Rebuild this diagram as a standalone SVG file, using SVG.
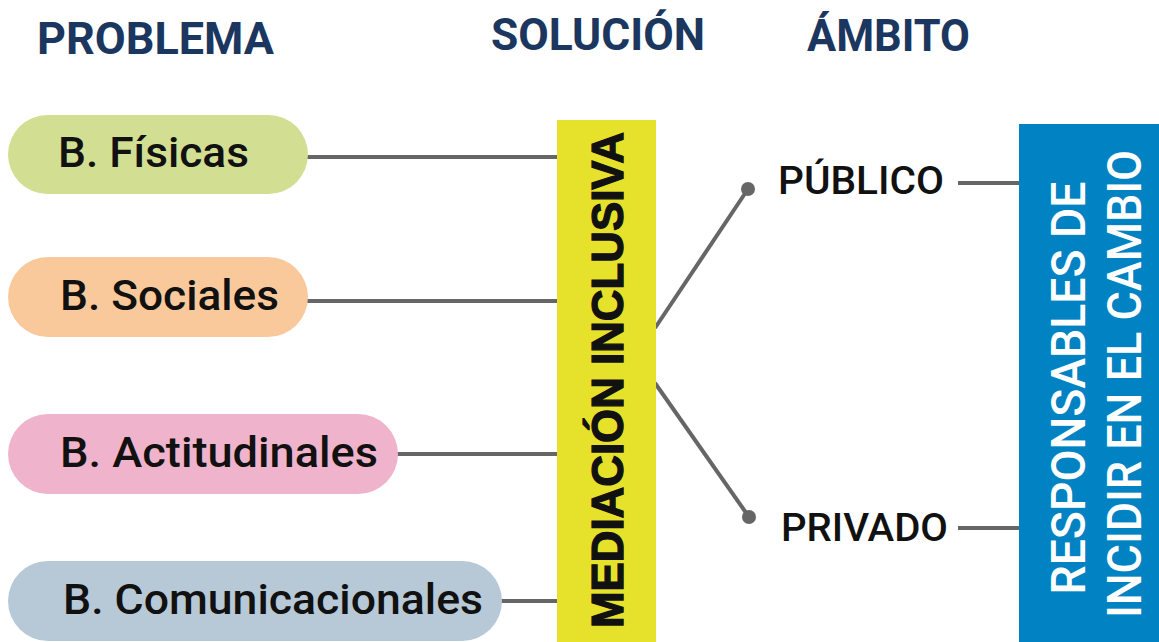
<svg xmlns="http://www.w3.org/2000/svg" width="1159" height="642" viewBox="0 0 1159 642">
<style>
.hdr{font-family:"Roboto","Liberation Sans",sans-serif;font-weight:700;font-size:44px;fill:#1B375F}
.pill-t{font-family:"Roboto","Liberation Sans",sans-serif;font-weight:500;font-size:43px;fill:#111}
.lbl{font-family:"Roboto","Liberation Sans",sans-serif;font-weight:500;font-size:39px;fill:#111}
.med{font-family:"Liberation Sans","Arial",sans-serif;font-weight:700;font-size:45px;fill:#111;stroke:#111;stroke-width:1.3px}
.resp{font-family:"Roboto","Liberation Sans",sans-serif;font-weight:500;font-size:48px;fill:#fff}
.conn line{stroke:#666;stroke-width:4;fill:none}
.conn circle{fill:#666}
</style>
<rect width="1159" height="642" fill="#fff"/>
<g id="headers">
<text class="hdr" x="37" y="54" textLength="237" lengthAdjust="spacingAndGlyphs">PROBLEMA</text>
<text class="hdr" x="491" y="50" textLength="214" lengthAdjust="spacingAndGlyphs">SOLUCIÓN</text>
<text class="hdr" x="807" y="51" textLength="163" lengthAdjust="spacingAndGlyphs">ÁMBITO</text>
</g>
<g class="conn" id="connectors">
<line x1="306" y1="157" x2="559" y2="157"/>
<line x1="306" y1="301" x2="559" y2="301"/>
<line x1="396" y1="454" x2="559" y2="454"/>
<line x1="500" y1="601" x2="559" y2="601"/>
<line x1="655" y1="328" x2="748" y2="189"/>
<line x1="655" y1="383" x2="749" y2="517"/>
<circle cx="748" cy="189" r="7"/>
<circle cx="749" cy="517" r="7"/>
<line x1="958" y1="183" x2="1021" y2="183"/>
<line x1="958" y1="528" x2="1021" y2="528"/>
</g>
<g id="fisicas">
<rect x="8" y="115" width="300" height="79" rx="39.5" fill="#D2DF93"/>
<text class="pill-t" x="58" y="167" textLength="191" lengthAdjust="spacingAndGlyphs">B. Físicas</text>
</g>
<g id="sociales">
<rect x="8" y="257" width="300" height="80" rx="40" fill="#F9C99B"/>
<text class="pill-t" x="60" y="310" textLength="219" lengthAdjust="spacingAndGlyphs">B. Sociales</text>
</g>
<g id="actitudinales">
<rect x="8" y="414" width="390" height="80" rx="40" fill="#EFB4CB"/>
<text class="pill-t" x="60" y="467" textLength="318" lengthAdjust="spacingAndGlyphs">B. Actitudinales</text>
</g>
<g id="comunicacionales">
<rect x="8" y="561" width="494" height="80" rx="40" fill="#B7C8D6"/>
<text class="pill-t" x="63" y="614" textLength="420" lengthAdjust="spacingAndGlyphs">B. Comunicacionales</text>
</g>
<g id="mediacion">
<rect x="557" y="120" width="99" height="522" fill="#E6E12A"/>
<text class="med" transform="translate(623,380) rotate(-90)" x="0" y="0" text-anchor="middle" textLength="496" lengthAdjust="spacingAndGlyphs">MEDIACIÓN INCLUSIVA</text>
</g>
<g id="publico">
<text class="lbl" x="778" y="194" textLength="166" lengthAdjust="spacingAndGlyphs">PÚBLICO</text>
</g>
<g id="privado">
<text class="lbl" x="781" y="541" textLength="167" lengthAdjust="spacingAndGlyphs">PRIVADO</text>
</g>
<g id="responsables">
<rect x="1019" y="124" width="140" height="518" fill="#0082C3"/>
<text class="resp" transform="translate(1085,388) rotate(-90)" x="0" y="0" text-anchor="middle" textLength="413" lengthAdjust="spacingAndGlyphs">RESPONSABLES DE</text>
<text class="resp" transform="translate(1141,384) rotate(-90)" x="0" y="0" text-anchor="middle" textLength="468" lengthAdjust="spacingAndGlyphs">INCIDIR EN EL CAMBIO</text>
</g>
</svg>
